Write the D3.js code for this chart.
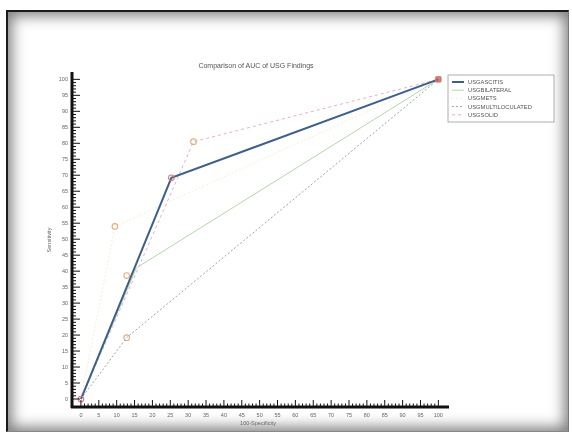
<!DOCTYPE html>
<html>
<head>
<meta charset="utf-8">
<script src="https://cdn.jsdelivr.net/npm/d3@7"></script>
<style>
  body { margin: 0; background: #fff; }
  #frame {
    position: absolute; left: 6px; top: 10px; width: 563px; height: 422px;
    border-left: 2px solid #1a1a1a; border-top: 2px solid #1a1a1a;
    border-right: 1px solid #777; border-bottom: 1px solid #888;
    box-shadow: inset 0 0 14px 4px rgba(0,0,0,0.5);
    box-sizing: border-box;
  }
  svg { position: absolute; left: 0; top: 0; font-family: "Liberation Sans", Arial, sans-serif; filter: blur(0.35px); }
</style>
</head>
<body>
<div id="frame"></div>
<div id="chart"></div>
<script>
// ROC data (100-Specificity, Sensitivity)
const seriesNames = ["USGASCITIS", "USGBILATERAL", "USGMETS", "USGMULTILOCULATED", "USGSOLID"];
const ascitis = [[0, 0], [25.3, 69.2], [100, 100]];
const bilateral = [[0, 0], [15.5, 41], [100, 100]];
const mets = [[0, 0], [9.5, 54], [100, 100]];
const multiloculated = [[0, 0], [12.8, 19.2], [100, 100]];
const solid = [[0, 0], [31.5, 80.5], [100, 100]];
const criterionPts = [[0, 0], [25.3, 69.2], [31.5, 80.5], [9.5, 54], [12.8, 38.6], [12.8, 19.2], [100, 100]];
const tickValues = d3.range(0, 101, 5);

const width = 572, height = 434;
const svg = d3.select("#chart").append("svg")
    .attr("width", width)
    .attr("height", height);

const x = d3.scaleLinear().domain([-2.5, 102.7]).range([72, 448]);
const y = d3.scaleLinear().domain([-2.5, 102.3]).range([407, 72]);

const styles = [
    {color: "#3d5f8e", w: 2, dash: null},
    {color: "#b5d6aa", w: 1, dash: null},
    {color: "#f6eed4", w: 1, dash: "2,2"},
    {color: "#a0a0ac", w: 1, dash: "2,2"},
    {color: "#e4afc6", w: 1, dash: "3,3"}
];
const allSeries = [ascitis, bilateral, mets, multiloculated, solid];

// title
svg.append("text")
    .attr("x", 256).attr("y", 68)
    .attr("text-anchor", "middle")
    .attr("font-size", 7)
    .attr("fill", "#555")
    .text("Comparison of AUC of USG Findings");

const line = d3.line().x(d => x(d[0])).y(d => y(d[1]));

// draw lines, back to front
[4, 3, 2, 1, 0].forEach(i => {
    svg.append("path")
        .attr("d", line(allSeries[i]))
        .attr("fill", "none")
        .attr("stroke", styles[i].color)
        .attr("stroke-width", styles[i].w)
        .attr("stroke-dasharray", styles[i].dash);
});

// criterion markers
svg.selectAll(".mk")
    .data(criterionPts)
    .enter().append("circle")
    .attr("class", "mk")
    .attr("cx", d => x(d[0]))
    .attr("cy", d => y(d[1]))
    .attr("r", 2.8)
    .attr("fill", "none")
    .attr("stroke", (d, i) => (i === 1 || i === 0) ? "#d67a7a" : "#e6ac80")
    .attr("stroke-width", 1.1);

svg.append("rect")
    .attr("x", x(100) - 3).attr("y", y(100) - 3)
    .attr("width", 6).attr("height", 6)
    .attr("fill", "#c85a5a").attr("opacity", 0.75);

// axes: ticks pointing inward
const yAxis = svg.append("g").attr("transform", "translate(72,0)");
yAxis.selectAll(".minor").data(d3.range(0, 101, 1)).enter().append("line")
    .attr("x1", 0).attr("x2", d => d % 5 === 0 ? 8 : 4)
    .attr("y1", d => y(d)).attr("y2", d => y(d))
    .attr("stroke", "#111").attr("stroke-width", 1);
yAxis.append("line").attr("x1", 0).attr("x2", 0).attr("y1", 72).attr("y2", 408)
    .attr("stroke", "#111").attr("stroke-width", 3);
yAxis.selectAll(".lab").data(tickValues).enter().append("text")
    .attr("x", -4).attr("y", d => y(d)).attr("dy", "0.35em")
    .attr("text-anchor", "end").attr("font-size", 5.5).attr("fill", "#666")
    .text(d => d);

const xAxis = svg.append("g").attr("transform", "translate(0,407)");
xAxis.selectAll(".minor").data(d3.range(0, 101, 1)).enter().append("line")
    .attr("y1", 0).attr("y2", d => d % 5 === 0 ? -7 : -3.5)
    .attr("x1", d => x(d)).attr("x2", d => x(d))
    .attr("stroke", "#111").attr("stroke-width", 1);
xAxis.append("line").attr("x1", 71).attr("x2", 449).attr("y1", 0).attr("y2", 0)
    .attr("stroke", "#111").attr("stroke-width", 3);
xAxis.selectAll(".lab").data(tickValues).enter().append("text")
    .attr("x", d => x(d)).attr("y", 8).attr("dy", "0.35em")
    .attr("text-anchor", "middle").attr("font-size", 5.5).attr("fill", "#666")
    .text(d => d);

svg.append("text")
    .attr("x", 258).attr("y", 425)
    .attr("text-anchor", "middle").attr("font-size", 5.5).attr("fill", "#666")
    .text("100-Specificity");
svg.append("text")
    .attr("transform", "translate(51,240) rotate(-90)")
    .attr("text-anchor", "middle").attr("font-size", 5.5).attr("fill", "#666")
    .text("Sensitivity");

// legend
const legend = svg.append("g").attr("transform", "translate(448,75)");
legend.append("rect")
    .attr("width", 106).attr("height", 47)
    .attr("fill", "#fff").attr("stroke", "#999").attr("stroke-width", 0.8);
seriesNames.forEach((name, i) => {
    const row = legend.append("g").attr("transform", `translate(0,${7 + i * 8.2})`);
    row.append("line")
        .attr("x1", 4).attr("x2", 16)
        .attr("stroke", i === 2 ? "#eeeeee" : styles[i].color)
        .attr("stroke-width", styles[i].w)
        .attr("stroke-dasharray", styles[i].dash);
    row.append("text")
        .attr("x", 20).attr("dy", "0.35em")
        .attr("font-size", 5.8).attr("fill", "#555")
        .text(name);
});
</script>
</body>
</html>
